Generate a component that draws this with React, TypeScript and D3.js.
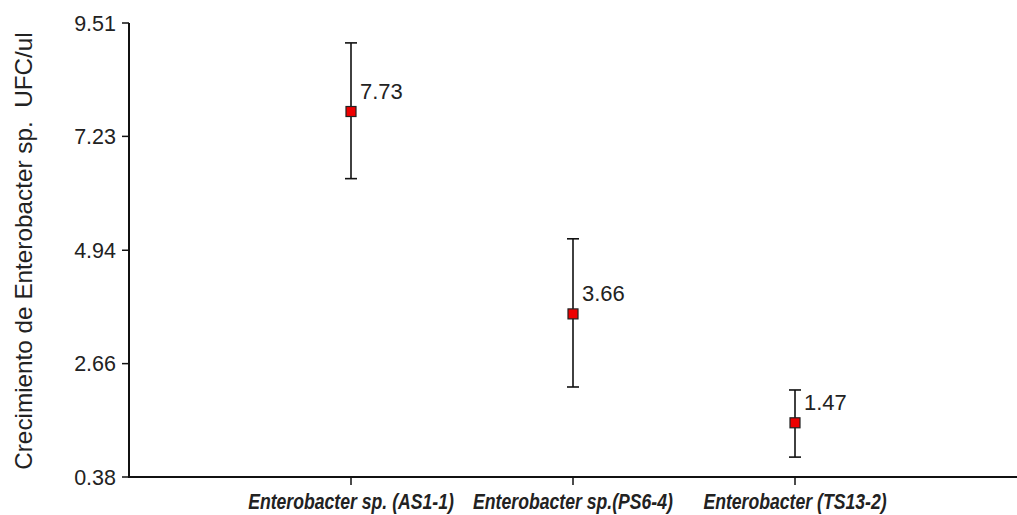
import React from "react";
import * as d3 from "d3";

const categories = ["Enterobacter sp. (AS1-1)", "Enterobacter sp.(PS6-4)", "Enterobacter (TS13-2)"];
const means = [7.73, 3.66, 1.47];
const errLow = [6.38, 2.19, 0.78];
const errHigh = [9.11, 5.17, 2.13];
const yTicks = [0.38, 2.66, 4.94, 7.23, 9.51];
const yTickLabels = ["0.38", "2.66", "4.94", "7.23", "9.51"];
const yTitle = "Crecimiento de Enterobacter sp.  UFC/ul";

const W = 1017;
const H = 515;
const left = 129;
const right = 1017;
const top = 23;
const bottom = 477;

export default function App() {
  const y = d3.scaleLinear().domain([0.38, 9.51]).range([bottom, top]);
  const x = d3.scalePoint<string>().domain(categories).range([left, right]).padding(1);
  const textColor = "#222";
  const font = "'Liberation Sans', Arial, sans-serif";

  return (
    <svg
      width={W}
      height={H}
      style={{ position: "absolute", left: 0, top: 0, display: "block", background: "#fff" }}
    >
      {/* y axis */}
      <line x1={left} x2={left} y1={top} y2={bottom + 1} stroke="#111" strokeWidth={2} />
      {yTicks.map((t, i) => (
        <g key={t}>
          <line x1={left - 7} x2={left} y1={y(t)} y2={y(t)} stroke="#111" strokeWidth={1.5} />
          <text
            x={left - 13}
            y={y(t)}
            dy="0.36em"
            textAnchor="end"
            fontFamily={font}
            fontSize={21.5}
            fill={textColor}
          >
            {yTickLabels[i]}
          </text>
        </g>
      ))}
      <text
        transform={`translate(32, 251) rotate(-90)`}
        textAnchor="middle"
        fontFamily={font}
        fontSize={24.3}
        fill={textColor}
        style={{ whiteSpace: "pre" }}
      >
        {yTitle}
      </text>

      {/* x axis */}
      <line x1={left} x2={right} y1={bottom} y2={bottom} stroke="#111" strokeWidth={2} />
      {categories.map((c) => (
        <g key={c}>
          <line x1={x(c)!} x2={x(c)!} y1={bottom} y2={bottom + 8} stroke="#111" strokeWidth={1.5} />
          <text
            transform={`translate(${x(c)!}, ${bottom + 32}) scale(0.82, 1)`}
            textAnchor="middle"
            fontFamily="'Liberation Sans Narrow', 'Liberation Sans', Arial, sans-serif"
            fontStyle="italic"
            fontWeight={700}
            fontSize={21.5}
            fill={textColor}
          >
            {c}
          </text>
        </g>
      ))}

      {/* error bars and means */}
      {categories.map((c, i) => {
        const cx = x(c)!;
        return (
          <g key={c + "-m"}>
            <line x1={cx} x2={cx} y1={y(errHigh[i])} y2={y(errLow[i])} stroke="#111" strokeWidth={1.6} />
            <line x1={cx - 6} x2={cx + 6} y1={y(errHigh[i])} y2={y(errHigh[i])} stroke="#111" strokeWidth={1.6} />
            <line x1={cx - 6} x2={cx + 6} y1={y(errLow[i])} y2={y(errLow[i])} stroke="#111" strokeWidth={1.6} />
            <rect x={cx - 5} y={y(means[i]) - 5} width={10} height={10} fill="#ee0000" stroke="#222" strokeWidth={1.2} />
            <text
              x={cx + 9}
              y={y(means[i]) - 13}
              fontFamily={font}
              fontSize={22}
              fill={textColor}
            >
              {means[i].toFixed(2)}
            </text>
          </g>
        );
      })}
    </svg>
  );
}
